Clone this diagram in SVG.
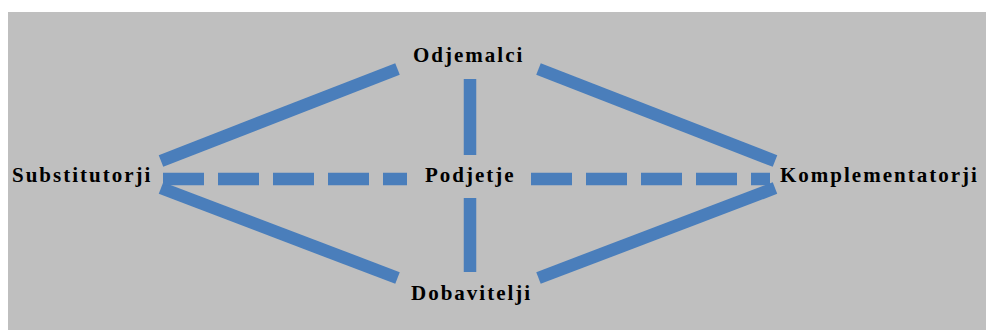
<svg xmlns="http://www.w3.org/2000/svg" width="986" height="330" viewBox="0 0 986 330">
  <style>
    .link { stroke: #4a7ebb; stroke-width: 12.5; stroke-linecap: butt; fill: none; }
    .dash { stroke-dasharray: 41 14; }
    .label { font-family: "Liberation Serif", "Times New Roman", serif; font-weight: bold; font-size: 21px; letter-spacing: 2px; fill: #000; }
  </style>
  <rect x="0" y="0" width="986" height="330" fill="#ffffff"/>
  <rect x="8" y="12" width="978" height="318" fill="#bfbfbf"/>

  <g id="connectors">
    <line class="link" x1="161" y1="161" x2="397.5" y2="69"/>
    <line class="link" x1="538.5" y1="69" x2="775" y2="161"/>
    <line class="link" x1="161" y1="188" x2="397.5" y2="278"/>
    <line class="link" x1="538.5" y1="278" x2="775" y2="188"/>
    <line class="link" x1="470" y1="79" x2="470" y2="155"/>
    <line class="link" x1="470" y1="198" x2="470" y2="272"/>
    <line class="link dash" x1="163" y1="179" x2="407" y2="179"/>
    <line class="link dash" x1="531" y1="179" x2="770" y2="179"/>
  </g>

  <g id="odjemalci">
    <text class="label" x="413" y="62">Odjemalci</text>
  </g>
  <g id="substitutorji">
    <text class="label" x="12" y="182">Substitutorji</text>
  </g>
  <g id="podjetje">
    <text class="label" x="425" y="182">Podjetje</text>
  </g>
  <g id="komplementatorji">
    <text class="label" x="780" y="182">Komplementatorji</text>
  </g>
  <g id="dobavitelji">
    <text class="label" x="411" y="300">Dobavitelji</text>
  </g>
</svg>
